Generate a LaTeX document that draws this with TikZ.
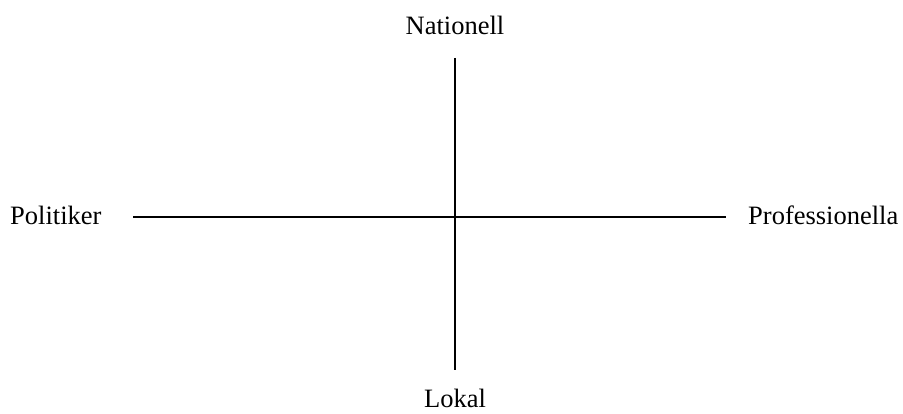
\documentclass[tikz,border=0pt]{standalone}
\usepackage{fontspec}
\setmainfont{Liberation Serif}
\begin{document}
\begin{tikzpicture}[x=1pt,y=-1pt,
  axis/.style={line width=2pt, black},
  lbl/.style={inner sep=0pt, font=\fontsize{26.5}{30}\selectfont}]
\useasboundingbox (0,0) rectangle (903,414);
\node[lbl, anchor=base] (nat) at (455,35) {Nationell};
\node[lbl, anchor=base] (lok) at (455,407) {Lokal};
\node[lbl, anchor=base west] (pol) at (10,225) {Politiker};
\node[lbl, anchor=base west] (pro) at (748,225) {Professionella};
\coordinate (vtop) at (455,58);
\coordinate (vbot) at (455,370);
\coordinate (hl) at (133,217);
\coordinate (hr) at (726,217);
\draw[axis] (vtop) -- (vbot);
\draw[axis] (hl) -- (hr);
\end{tikzpicture}
\end{document}
